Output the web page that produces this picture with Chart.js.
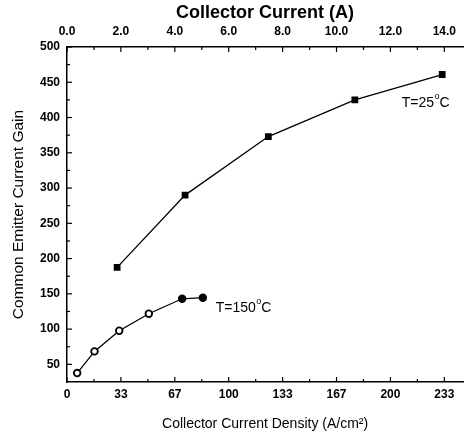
<!DOCTYPE html>
<html><head><meta charset="utf-8">
<script src="https://cdn.jsdelivr.net/npm/chart.js@4"></script>
<style>html,body{margin:0;padding:0;background:#fff}#wrap{width:469px;height:439px}</style>
</head><body><div id="wrap"><canvas id="c" width="469" height="439"></canvas></div>
<script>
// ---- data ----
const density25 = [31, 73, 124.5, 178, 232];
const gain25 = [187.5, 290, 373, 425, 461];
const density150 = [6.3, 17, 32.3, 50.6, 71.2, 84];
const gain150 = [37.7, 68.4, 97.7, 121.8, 143, 144.5];
const bottomTickValues = [0, 100/3, 200/3, 100, 400/3, 500/3, 200, 700/3];
const topTickAmps = [0, 2, 4, 6, 8, 10, 12, 14];
const yTickValues = [50, 100, 150, 200, 250, 300, 350, 400, 450, 500];
const deviceArea = 0.06; // cm^2, links top (A) and bottom (A/cm^2) axes
const curveLabels = [
  {main: 'T=25', sup: 'o', unit: 'C', x: 207, y: 421},
  {main: 'T=150', sup: 'o', unit: 'C', x: 92, y: 130}
];

const FONT = "'Liberation Sans', Arial, sans-serif";
const X_MIN = 0, X_MAX = 245, Y_MIN = 25, Y_MAX = 500;

const inwardTicks = {
  id: 'inwardTicks',
  afterDraw(chart) {
    const {ctx, chartArea: a, scales} = chart;
    ctx.save();
    ctx.strokeStyle = '#000';
    ctx.lineWidth = 1.2;
    const MAJ = 5, MIN = 3;
    const seg = (x1, y1, x2, y2) => { ctx.beginPath(); ctx.moveTo(x1, y1); ctx.lineTo(x2, y2); ctx.stroke(); };
    // bottom
    bottomTickValues.forEach(v => { const p = scales.x.getPixelForValue(v); seg(p, a.bottom, p, a.bottom - MAJ); });
    bottomTickValues.map(v => v + 50/3).filter(v => v < X_MAX).forEach(v => { const p = scales.x.getPixelForValue(v); seg(p, a.bottom, p, a.bottom - MIN); });
    // top
    topTickAmps.forEach(t => { const p = scales.x2.getPixelForValue(t / deviceArea); seg(p, a.top, p, a.top + MAJ); });
    topTickAmps.map(t => t + 1).filter(t => t / deviceArea < X_MAX).forEach(t => { const p = scales.x2.getPixelForValue(t / deviceArea); seg(p, a.top, p, a.top + MIN); });
    // left
    yTickValues.forEach(v => { const p = scales.y.getPixelForValue(v); seg(a.left, p, a.left + MAJ, p); });
    yTickValues.map(v => v - 25).filter(v => v > Y_MIN).forEach(v => { const p = scales.y.getPixelForValue(v); seg(a.left, p, a.left + MIN, p); });
    // curve labels with superscript degree
    ctx.fillStyle = '#000';
    ctx.textBaseline = 'middle';
    curveLabels.forEach(l => {
      let x = scales.x.getPixelForValue(l.x);
      const y = scales.y.getPixelForValue(l.y);
      ctx.font = `14px ${FONT}`;
      ctx.fillText(l.main, x, y); x += ctx.measureText(l.main).width + 0.5;
      ctx.font = `9px ${FONT}`;
      ctx.fillText(l.sup, x, y - 6); x += ctx.measureText(l.sup).width;
      ctx.font = `14px ${FONT}`;
      ctx.fillText(l.unit, x, y);
    });
    ctx.restore();
  }
};

new Chart(document.getElementById('c'), {
  type: 'line',
  data: {
    datasets: [
      {
        label: 'T=25°C',
        data: density25.map((x, i) => ({x, y: gain25[i]})),
        borderColor: '#000', borderWidth: 1.3,
        pointStyle: 'rect', pointRadius: 4.8, pointBackgroundColor: '#000', pointBorderColor: '#000', pointBorderWidth: 0,
        xAxisID: 'x', yAxisID: 'y', tension: 0
      },
      {
        label: 'T=150°C',
        data: density150.map((x, i) => ({x, y: gain150[i]})),
        borderColor: '#000', borderWidth: 1.3,
        pointStyle: 'circle', pointRadius: 3.3, pointBorderWidth: 1.8,
        pointBackgroundColor: ['#fff', '#fff', '#fff', '#fff', '#000', '#000'], pointBorderColor: '#000',
        xAxisID: 'x', yAxisID: 'y', tension: 0
      }
    ]
  },
  options: {
    responsive: false, animation: false, devicePixelRatio: 1,
    layout: {padding: {left: 0, right: 2, top: 0, bottom: 0}},
    plugins: {legend: {display: false}, tooltip: {enabled: false}},
    scales: {
      x: {
        type: 'linear', position: 'bottom', min: X_MIN, max: X_MAX,
        grid: {display: false, drawTicks: false},
        border: {display: true, color: '#000', width: 1.5},
        afterBuildTicks: s => { s.ticks = bottomTickValues.map(v => ({value: v})); },
        afterFit: s => { s.height = 57; },
        ticks: {
          padding: 5, color: '#000', font: {family: FONT, size: 12, weight: 'bold'},
          maxRotation: 0, autoSkip: false,
          callback: v => String(Math.round(v))
        },
        title: {display: true, text: 'Collector Current Density (A/cm²)', color: '#000',
          font: {family: FONT, size: 14}, padding: {top: 0, bottom: 6}}
      },
      x2: {
        type: 'linear', position: 'top', min: X_MIN, max: X_MAX,
        grid: {display: false, drawTicks: false},
        border: {display: true, color: '#000', width: 1.5},
        afterBuildTicks: s => { s.ticks = topTickAmps.map(t => ({value: t / deviceArea})); },
        afterFit: s => { s.height = 47; },
        ticks: {
          padding: 8, color: '#000', font: {family: FONT, size: 12, weight: 'bold'},
          maxRotation: 0, autoSkip: false,
          callback: v => (v * deviceArea).toFixed(1)
        },
        title: {display: true, text: 'Collector Current (A)', color: '#000',
          font: {family: FONT, size: 18, weight: 'bold'}, padding: {top: 2, bottom: 0}}
      },
      y: {
        type: 'linear', position: 'left', min: Y_MIN, max: Y_MAX,
        grid: {display: false, drawTicks: false},
        border: {display: true, color: '#000', width: 1.5},
        afterBuildTicks: s => { s.ticks = yTickValues.map(v => ({value: v})); },
        afterFit: s => { s.width = 67; },
        ticks: {
          padding: 7, color: '#000', font: {family: FONT, size: 12, weight: 'bold'},
          autoSkip: false, callback: v => String(v)
        },
        title: {display: true, text: 'Common Emitter Current Gain', color: '#000',
          font: {family: FONT, size: 15.5}, padding: {top: 9, bottom: 0}}
      }
    }
  },
  plugins: [inwardTicks]
});
</script>
</body></html>
